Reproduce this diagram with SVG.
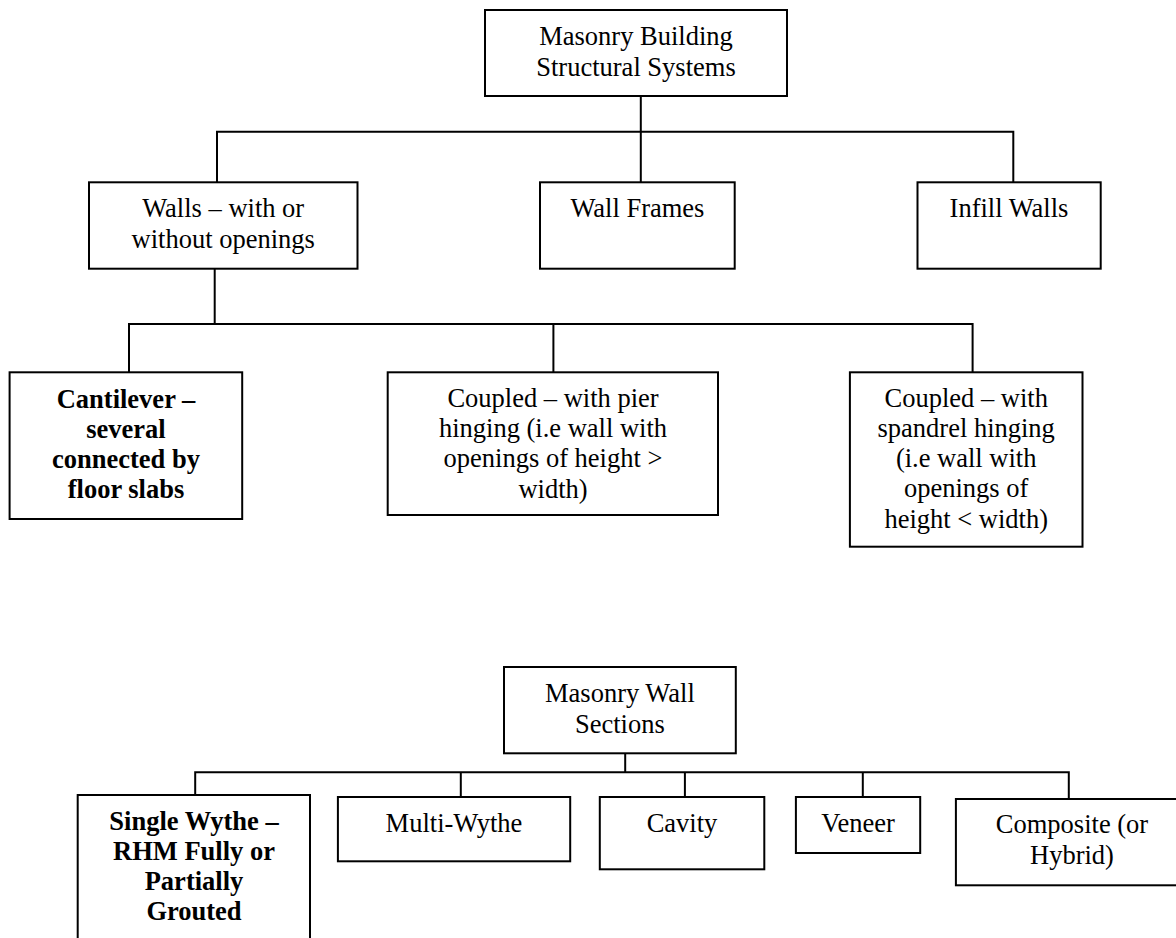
<svg xmlns="http://www.w3.org/2000/svg" width="1176" height="938" viewBox="0 0 1176 938">
<style>
.box{fill:#fff;stroke:#000;stroke-width:2}
.t{font-family:"Liberation Serif","Times New Roman",serif;font-size:26.5px;text-anchor:middle;fill:#000}
.b{font-weight:bold}
.conn path{fill:none;stroke:#000;stroke-width:2}
</style>
<rect width="1176" height="938" fill="#fff"/>
<g class="conn" id="connectors">
<path d="M640.8 96 V182.3"/>
<path d="M217 182.3 V131.7 H1013.3 V182.3"/>
<path d="M214.7 268.7 V324"/>
<path d="M129 372.3 V324 H972.6 V372.3"/>
<path d="M553.4 324 V372.3"/>
<path d="M625.2 753.3 V772.3"/>
<path d="M195.2 795 V772.3 H1068.8 V799"/>
<path d="M460.8 772.3 V797"/>
<path d="M684.9 772.3 V797"/>
<path d="M862.8 772.3 V797"/>
</g>
<g id="n-root">
<rect class="box" x="485" y="10" width="302" height="86"/>
<text class="t" x="636" y="45">Masonry Building</text>
<text class="t" x="636" y="76">Structural Systems</text>
</g>
<g id="n-walls">
<rect class="box" x="89" y="182.3" width="268.5" height="86.4"/>
<text class="t" x="223.2" y="216.7">Walls – with or</text>
<text class="t" x="223.2" y="248.3">without openings</text>
</g>
<g id="n-wallframes">
<rect class="box" x="540" y="182.3" width="194.7" height="86.4"/>
<text class="t" x="637.4" y="216.7">Wall Frames</text>
</g>
<g id="n-infill">
<rect class="box" x="917.5" y="182.3" width="183.2" height="86.4"/>
<text class="t" x="1009" y="216.7">Infill Walls</text>
</g>
<g id="n-cantilever">
<rect class="box" x="9.6" y="372.3" width="232.6" height="146.7"/>
<text class="t b" x="126" y="408.3">Cantilever –</text>
<text class="t b" x="126" y="438.3">several</text>
<text class="t b" x="126" y="468.3">connected by</text>
<text class="t b" x="126" y="498.3">floor slabs</text>
</g>
<g id="n-pier">
<rect class="box" x="387.7" y="372.3" width="330.3" height="142.7"/>
<text class="t" x="553" y="406.7">Coupled – with pier</text>
<text class="t" x="553" y="437">hinging (i.e wall with</text>
<text class="t" x="553" y="467.3">openings of height &gt;</text>
<text class="t" x="553" y="497.6">width)</text>
</g>
<g id="n-spandrel">
<rect class="box" x="849.9" y="372.3" width="232.6" height="174.4"/>
<text class="t" x="966.2" y="406.7">Coupled – with</text>
<text class="t" x="966.2" y="436.9">spandrel hinging</text>
<text class="t" x="966.2" y="467.1">(i.e wall with</text>
<text class="t" x="966.2" y="497.3">openings of</text>
<text class="t" x="966.2" y="527.5">height &lt; width)</text>
</g>
<g id="n-sections">
<rect class="box" x="504" y="667" width="231.8" height="86.3"/>
<text class="t" x="619.9" y="701.7">Masonry Wall</text>
<text class="t" x="619.9" y="733.3">Sections</text>
</g>
<g id="n-single">
<rect class="box" x="77.7" y="795" width="232.3" height="160"/>
<text class="t b" x="194" y="830">Single Wythe –</text>
<text class="t b" x="194" y="860">RHM Fully or</text>
<text class="t b" x="194" y="890">Partially</text>
<text class="t b" x="194" y="920">Grouted</text>
</g>
<g id="n-multi">
<rect class="box" x="337.9" y="797" width="232.3" height="64.3"/>
<text class="t" x="454" y="831.7">Multi-Wythe</text>
</g>
<g id="n-cavity">
<rect class="box" x="599.8" y="797" width="164.5" height="72.3"/>
<text class="t" x="682" y="831.7">Cavity</text>
</g>
<g id="n-veneer">
<rect class="box" x="795.9" y="797" width="124.3" height="56"/>
<text class="t" x="858" y="831.7">Veneer</text>
</g>
<g id="n-composite">
<rect class="box" x="955.9" y="799" width="232" height="86.3"/>
<text class="t" x="1072" y="833.3">Composite (or</text>
<text class="t" x="1072" y="864.3">Hybrid)</text>
</g>
</svg>
